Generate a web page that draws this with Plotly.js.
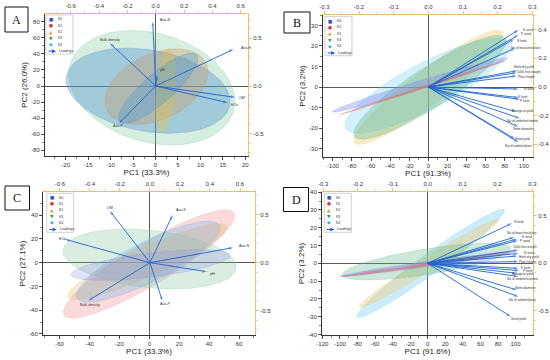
<!DOCTYPE html>
<html><head><meta charset="utf-8">
<script src="https://cdn.plot.ly/plotly-3.0.1.min.js"></script>
<style>html,body{margin:0;padding:0;background:#fff}#chart{width:550px;height:360px}</style>
</head><body><div id="chart"></div>
<script>
// ================= DATA =================
const groups = ['K0','K1','K2','K3','K4'];

// ---- Panel A : soil properties ----
const varsA = ['Ava-N','Bulk density','Ava-K','pH','OM','ECe','Ava-P'];
const pc1A  = [-0.021,-0.323,0.548,0.011,0.560,0.508,-0.259];
const pc2A  = [0.675,0.448,0.385,0.115,-0.119,-0.175,-0.392];
const ellA_group = ['K3','K0','K1','K2','K4'];
const ellA_cx = [-0.82,-1.63,0.22,2.23,0.60];
const ellA_cy = [-2.1,-5.8,-0.8,-5.8,-2.9];
const ellA_mx = [17.36,16.57,11.31,3.04,9.17];
const ellA_my = [-31.3,-23.7,28.1,45.9,38.7];
const ellA_r  = [0.64,0.49,0.60,0.22,0.29];

// ---- Panel B : plant traits ----
const varsB = ['K seed','P seed','N herb','No of branches/plant','Herb dry yield','1000-fruit weight','Plant height','N seed','K herb','P herb','Biological yield','No of umbelets/umbel','Stem diameter','Seed yield','No of umbels/plant'];
const pc1B  = [0.260,0.260,0.247,0.250,0.257,0.255,0.255,0.260,0.260,0.264,0.253,0.264,0.260,0.250,0.260];
const pc2B  = [0.398,0.363,0.333,0.270,0.114,0.100,0.077,-0.014,-0.074,-0.086,-0.172,-0.219,-0.277,-0.363,-0.386];
const ellB_group = ['K2','K4','K3','K0','K1'];
const ellB_cx = [0.0,-1.05,1.75,-8.7,-6.3];
const ellB_cy = [-0.16,0.65,-0.16,1.0,-0.33];
const ellB_mx = [77.0,84.4,80.8,83.4,80.3];
const ellB_my = [26.8,21.4,23.8,14.1,12.8];
const ellB_r  = [0.185,0.25,0.22,0.045,0.012];

// ---- Panel C : soil properties ----
const varsC = ['OM','Ava-K','ECe','Ava-N','pH','Ava-P','Bulk density'];
const pc1C  = [-0.267,0.151,-0.567,0.555,0.378,0.082,-0.411];
const pc2C  = [0.540,0.499,0.245,0.157,-0.094,-0.397,-0.397];
const ellC_group = ['K1','K3','K2','K4','K0'];
const ellC_cx = [-0.22,0.22,-1.34,-0.67,0.89];
const ellC_cy = [-1.12,3.09,0.84,0.84,-1.96];
const ellC_mx = [56.6,58.1,51.9,47.0,54.0];
const ellC_my = [41.8,-4.56,30.6,31.4,6.2];
const ellC_r  = [0.21,0.33,0.17,0.25,0.15];

// ---- Panel D : plant traits ----
const varsD = ['N herb','No of branches/plant','K seed','P seed','1000-fruit weight','N seed','Herb dry yield','Plant height','K herb','P herb','Biological yield','No of umbelets/umbel','Stem diameter','No of umbels/plant','Seed yield'];
const pc1D  = [0.241,0.248,0.256,0.258,0.260,0.260,0.257,0.260,0.260,0.263,0.256,0.260,0.256,0.260,0.238];
const pc2D  = [0.421,0.274,0.256,0.239,0.140,0.105,0.077,0.018,-0.053,-0.077,-0.105,-0.140,-0.281,-0.351,-0.561];
const ellD_group = ['K4','K2','K3','K0','K1'];
const ellD_cx = [3.4,1.5,-1.1,-0.4,-3.0];
const ellD_cy = [0.0,0.0,0.94,-0.38,-0.94];
const ellD_mx = [87.2,80.7,94.5,98.8,92.9];
const ellD_my = [30.1,24.5,8.4,6.5,5.7];
const ellD_r  = [0.11,0.085,0.15,0.03,0.012];

// ---- Tick values / labels ----
const tA_xb = [-25,-20,-15,-10,-5,0,5,10,15,20];
const tA_xbL = ['-25','-20','-15','-10','-5','0','5','10','15','20'];
const tA_yl = [-80,-60,-40,-20,0,20,40,60,80];
const tA_ylL = ['-80','-60','-40','-20','0','20','40','60','80'];
const tA_xt = [-0.6,-0.4,-0.2,0,0.2,0.4,0.6];
const tA_xtL = ['-0.6','-0.4','-0.2','0.0','0.2','0.4','0.6'];
const tA_yr = [-0.5,0,0.5];
const tA_yrL = ['-0.5','0.0','0.5'];

const tB_xb = [-100,-80,-60,-40,-20,0,20,40,60,80,100];
const tB_xbL = ['-100','-80','-60','-40','-20','0','20','40','60','80','100'];
const tB_yl = [-30,-20,-10,0,10,20,30];
const tB_ylL = ['-30','-20','-10','0','10','20','30'];
const tB_xt = [-0.3,-0.2,-0.1,0,0.1,0.2,0.3];
const tB_xtL = ['-0.3','-0.2','-0.1','0.0','0.1','0.2','0.3'];
const tB_yr = [-0.4,-0.2,0,0.2,0.4];
const tB_yrL = ['-0.4','-0.2','0.0','0.2','0.4'];

const tC_xb = [-60,-40,-20,0,20,40,60];
const tC_xbL = ['-60','-40','-20','0','20','40','60'];
const tC_yl = [-60,-40,-20,0,20,40,60];
const tC_ylL = ['-60','-40','-20','0','20','40','60'];
const tC_xt = [-0.6,-0.4,-0.2,0,0.2,0.4,0.6];
const tC_xtL = ['-0.6','-0.4','-0.2','0.0','0.2','0.4','0.6'];
const tC_yr = [-0.5,0,0.5];
const tC_yrL = ['-0.5','0.0','0.5'];

const tD_xb = [-120,-100,-80,-60,-40,-20,0,20,40,60,80,100,120];
const tD_xbL = ['-120','-100','-80','-60','-40','-20','0','20','40','60','80','100','120'];
const tD_yl = [-40,-30,-20,-10,0,10,20,30,40];
const tD_ylL = ['-40','-30','-20','-10','0','10','20','30','40'];
const tD_xt = [-0.3,-0.2,-0.1,0,0.1,0.2,0.3];
const tD_xtL = ['-0.3','-0.2','-0.1','0.0','0.1','0.2','0.3'];
const tD_yr = [-0.5,0,0.5];
const tD_yrL = ['-0.5','0.0','0.5'];

// ================= STYLE / LAYOUT =================
const W = 550, H = 360;
const FONT = 'Liberation Sans, Arial, sans-serif';
const ARROW = 'rgb(30,100,210)';
const ORANGE = '#eabd6a';
const groupGlyph = {K0:'■',K1:'●',K2:'▲',K3:'▼',K4:'◆'};
const groupColor = {K0:'#1f4fd6',K1:'#e42b2b',K2:'#e0a21a',K3:'#2e9e5e',K4:'#22b2ee'};

const fillA = ['rgba(120,200,150,0.30)','rgba(70,140,210,0.36)','rgba(200,150,105,0.36)','rgba(225,195,60,0.35)','rgba(60,150,220,0.30)'];
const fillB = ['rgba(240,200,100,0.36)','rgba(110,205,245,0.30)','rgba(100,185,135,0.36)','rgba(120,130,235,0.35)','rgba(235,110,110,0.6)'];
const fillC = ['rgba(240,140,140,0.32)','rgba(130,200,155,0.30)','rgba(240,180,100,0.30)','rgba(100,180,240,0.28)','rgba(140,140,230,0.25)'];
const fillD = ['rgba(110,205,245,0.36)','rgba(240,200,100,0.36)','rgba(100,185,135,0.32)','rgba(120,130,235,0.45)','rgba(235,110,110,0.6)'];

const shiftA = [[5.6,1.7],[-12.3,3.3],[5.7,1.6],[0.7,5],[2.3,-0.4],[1.6,-2.6],[-8,-2.7]];
const shiftB = [[2.7,0],[1,1],[1,-1.3],[-6,0.6],[-5,3.4],[-1.7,1],[-1,-1.3],[3.4,0],[-2.3,1],[-1.7,-1.3],[-6,1],[-15,-2.4],[-7.6,-2.6],[-2.3,0],[-15,-3.7]];
const shiftC = [[-5,3.3],[1.3,5],[-8.3,0],[4,2],[1.6,-2.6],[-4,-3.3],[-10,-4.3]];
const shiftD = [[0.6,1.3],[-9,4],[2.6,2.3],[0.6,0],[-7.6,3.3],[3.4,0],[-0.6,-0.7],[-1,0],[1,0.7],[1.7,0],[-6.7,-0.7],[-13.3,-2.3],[-4.4,2.3],[-11.6,-3.3],[-1.7,-2.6]];

const panels = [
 {name:'A', px:[45,248], py:[14,156], xr:[-24.6,20.6], yr:[-87.1,89.6], xtr:[-0.781,0.651], ytr:[-0.734,0.755],
  xtitle:'PC1 (33.3%)', ytitle:'PC2 (26.0%)', box:[5,7,28,32], leg:[46,15], lfs:3.7,
  vars:varsA, pc1:pc1A, pc2:pc2A, shift:shiftA,
  ell:{g:ellA_group,cx:ellA_cx,cy:ellA_cy,mx:ellA_mx,my:ellA_my,r:ellA_r,fill:fillA},
  t:[tA_xb,tA_xbL,tA_yl,tA_ylL,tA_xt,tA_xtL,tA_yr,tA_yrL], minor:[2.5,10,0.1,0.1]},
 {name:'B', px:[323,533], py:[15,157], xr:[-110.3,109.6], yr:[-34.1,35.1], xtr:[-0.304,0.302], ytr:[-0.488,0.502],
  xtitle:'PC1 (91.3%)', ytitle:'PC2 (3.2%)', box:[284,12,310,33], leg:[325,16.7], lfs:3.2,
  vars:varsB, pc1:pc1B, pc2:pc2B, shift:shiftB,
  ell:{g:ellB_group,cx:ellB_cx,cy:ellB_cy,mx:ellB_mx,my:ellB_my,r:ellB_r,fill:fillB},
  t:[tB_xb,tB_xbL,tB_yl,tB_ylL,tB_xt,tB_xtL,tB_yr,tB_yrL], minor:[10,5,0.05,0.1]},
 {name:'C', px:[43,255], py:[192,335], xr:[-71.1,70.7], yr:[-60.9,59.5], xtr:[-0.713,0.70], ytr:[-0.756,0.739],
  xtitle:'PC1 (33.3%)', ytitle:'PC2 (27.1%)', box:[5,186,29.5,210], leg:[46.7,193.3], lfs:3.7,
  vars:varsC, pc1:pc1C, pc2:pc2C, shift:shiftC,
  ell:{g:ellC_group,cx:ellC_cx,cy:ellC_cy,mx:ellC_mx,my:ellC_my,r:ellC_r,fill:fillC},
  t:[tC_xb,tC_xbL,tC_yl,tC_ylL,tC_xt,tC_xtL,tC_yr,tC_yrL], minor:[10,10,0.1,0.1]},
 {name:'D', px:[322,533], py:[192,335], xr:[-120.4,119.9], yr:[-40.3,40.1], xtr:[-0.303,0.302], ytr:[-0.755,0.751],
  xtitle:'PC1 (91.6%)', ytitle:'PC2 (3.2%)', box:[283.5,187.5,308.5,211.5], leg:[324.3,193.3], lfs:3.2,
  vars:varsD, pc1:pc1D, pc2:pc2D, shift:shiftD,
  ell:{g:ellD_group,cx:ellD_cx,cy:ellD_cy,mx:ellD_mx,my:ellD_my,r:ellD_r,fill:fillD},
  t:[tD_xb,tD_xbL,tD_yl,tD_ylL,tD_xt,tD_xtL,tD_yr,tD_yrL], minor:[10,5,0.05,0.1]}
];

const layout = {width:W, height:H, margin:{l:0,r:0,t:0,b:0}, paper_bgcolor:'#fff', plot_bgcolor:'rgba(0,0,0,0)',
  showlegend:false, font:{family:FONT, color:'#333'}, annotations:[], shapes:[]};
const traces = [];
const key = (l,n)=> l+'axis'+(n===1?'':n);
const ref = (l,n)=> l+(n===1?'':n);

const blackAx = {showline:true, linecolor:'#333', linewidth:1, ticks:'outside', ticklen:3, tickwidth:0.8, tickcolor:'#333',
  showgrid:false, tickfont:{size:6, color:'#333', family:FONT}, fixedrange:true, tickmode:'array'};
const orangeAx = {showline:true, linecolor:ORANGE, linewidth:1, ticks:'outside', ticklen:3, tickwidth:0.8, tickcolor:ORANGE,
  showgrid:false, zeroline:false, tickfont:{size:6, color:'#333', family:FONT}, fixedrange:true, tickmode:'array'};

panels.forEach((p,i)=>{
  const nb = 2*i+1, nt = 2*i+2;
  const xb = ref('x',nb), xt = ref('x',nt), yb = ref('y',nb), yt = ref('y',nt);
  const xd = [p.px[0]/W, p.px[1]/W], yd = [1-p.py[1]/H, 1-p.py[0]/H];
  const mn = (d,c)=>({tickmode:'linear', tick0:0, dtick:d, ticks:'outside', ticklen:1.6, tickwidth:0.6, tickcolor:c});
  layout[key('x',nb)] = Object.assign({}, blackAx, {domain:xd, anchor:yb, range:p.xr, tickvals:p.t[0], ticktext:p.t[1],
     zeroline:true, zerolinecolor:'#5a5a5a', zerolinewidth:1, minor:mn(p.minor[0],'#333'),
     title:{text:p.xtitle, font:{size:8, family:FONT, color:'#222'}, standoff:1}});
  layout[key('y',nb)] = Object.assign({}, blackAx, {domain:yd, anchor:xb, range:p.yr, tickvals:p.t[2], ticktext:p.t[3],
     zeroline:true, zerolinecolor:'#5a5a5a', zerolinewidth:1, minor:mn(p.minor[1],'#333'),
     title:{text:p.ytitle, font:{size:8, family:FONT, color:'#222'}, standoff:2}});
  layout[key('x',nt)] = Object.assign({}, orangeAx, {overlaying:xb, side:'top', anchor:yb, range:p.xtr, tickvals:p.t[4], ticktext:p.t[5],
     minor:mn(p.minor[2],ORANGE)});
  layout[key('y',nt)] = Object.assign({}, orangeAx, {overlaying:yb, side:'right', anchor:xb, range:p.ytr, tickvals:p.t[6], ticktext:p.t[7],
     minor:mn(p.minor[3],ORANGE)});

  // confidence ellipses (score space)
  const kx = (p.px[1]-p.px[0])/(p.xr[1]-p.xr[0]);
  const ky = (p.py[1]-p.py[0])/(p.yr[1]-p.yr[0]);
  const e = p.ell;
  e.cx.forEach((cx,j)=>{
    const cy = e.cy[j];
    const ux = (e.mx[j]-cx)*kx, uy = (e.my[j]-cy)*ky;
    const vx = -uy*e.r[j], vy = ux*e.r[j];
    const xs=[], ys=[];
    for (let s=0;s<=160;s++){
      const t = 2*Math.PI*s/160, c=Math.cos(t), sn=Math.sin(t);
      xs.push(cx + (ux*c + vx*sn)/kx);
      ys.push(cy + (uy*c + vy*sn)/ky);
    }
    const fc = e.fill[j];
    traces.push({type:'scatter', mode:'lines', x:xs, y:ys, xaxis:xb, yaxis:yb, fill:'toself', fillcolor:fc,
      line:{color:fc.replace(/[\d.]+\)$/, '0.55)'), width:0.5}, hoverinfo:'skip'});
  });

  // loading arrows (loading space, top / right axes)
  const ax=[], ay=[], sz=[];
  p.pc1.forEach((v,j)=>{ ax.push(0, v, null); ay.push(0, p.pc2[j], null); sz.push(0, 4.5, 0); });
  traces.push({type:'scatter', mode:'lines+markers', x:ax, y:ay, xaxis:xt, yaxis:yt, cliponaxis:false,
    line:{color:ARROW, width:0.9}, marker:{symbol:'arrow', angleref:'previous', size:sz, color:ARROW, line:{width:0}},
    hoverinfo:'skip'});
  p.vars.forEach((v,j)=>{
    layout.annotations.push({xref:xt, yref:yt, x:p.pc1[j], y:p.pc2[j], text:v, showarrow:false,
      xanchor:'left', yanchor:'middle', xshift:p.shift[j][0], yshift:p.shift[j][1],
      font:{size:p.lfs, color:'#333', family:FONT}});
  });

  // panel label box
  layout.shapes.push({type:'rect', xref:'paper', yref:'paper', x0:p.box[0]/W, x1:p.box[2]/W, y0:1-p.box[3]/H, y1:1-p.box[1]/H,
    line:{color:'#111', width:1}, fillcolor:'#fff'});
  layout.annotations.push({xref:'paper', yref:'paper', x:(p.box[0]+p.box[2])/2/W, y:1-(p.box[1]+p.box[3])/2/H,
    text:p.name, showarrow:false, xanchor:'center', yanchor:'middle', font:{size:12, family:'Liberation Serif, Times New Roman, serif', color:'#111'}});

  // legend box
  const lx = p.leg[0], ly = p.leg[1];
  layout.shapes.push({type:'rect', xref:'paper', yref:'paper', x0:lx/W, x1:(lx+27)/W, y0:1-(ly+39)/H, y1:1-ly/H,
    line:{color:'#b0b0b0', width:0.6}, fillcolor:'rgba(255,255,255,0.85)'});
  const rows = [4.3,10.6,17,23.3,29.6,36.2];
  groups.forEach((g,k)=>{
    layout.annotations.push({xref:'paper', yref:'paper', x:(lx+5)/W, y:1-(ly+rows[k])/H, text:groupGlyph[g], showarrow:false,
      xanchor:'center', yanchor:'middle', font:{size:4.5, color:groupColor[g], family:'DejaVu Sans'}});
    layout.annotations.push({xref:'paper', yref:'paper', x:(lx+10)/W, y:1-(ly+rows[k])/H, text:g, showarrow:false,
      xanchor:'left', yanchor:'middle', font:{size:3.5, color:'#333', family:FONT}});
  });
  layout.annotations.push({xref:'paper', yref:'paper', x:(lx+10)/W, y:1-(ly+rows[5])/H, ax:-9, ay:0, text:'', showarrow:true,
    arrowhead:2, arrowsize:0.8, arrowwidth:1, arrowcolor:ARROW});
  layout.annotations.push({xref:'paper', yref:'paper', x:(lx+11)/W, y:1-(ly+rows[5])/H, text:'Loadings', showarrow:false,
    xanchor:'left', yanchor:'middle', font:{size:3.5, color:'#333', family:FONT}});
});

Plotly.newPlot('chart', traces, layout, {staticPlot:true, displayModeBar:false});
</script>
</body></html>
